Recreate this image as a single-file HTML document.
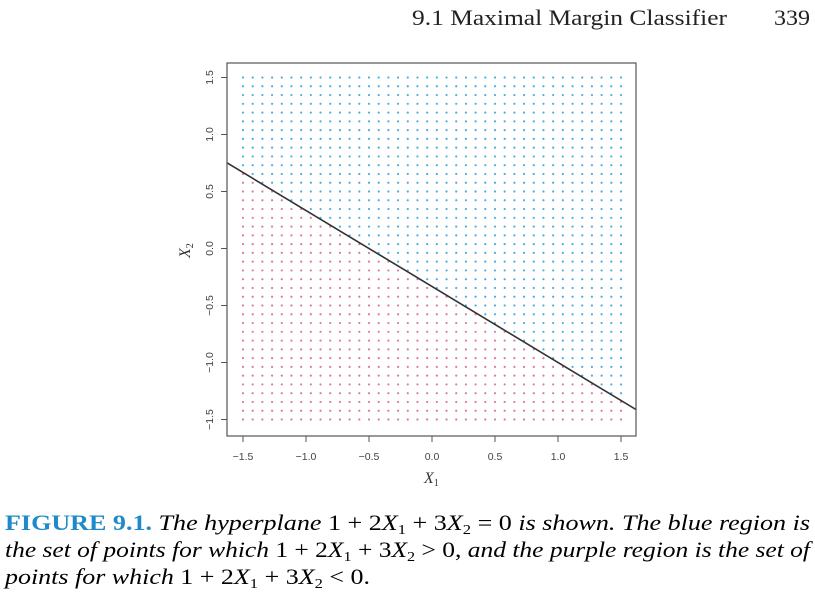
<!DOCTYPE html>
<html><head><meta charset="utf-8"><style>
html,body{margin:0;padding:0;background:#fff;}
svg{display:block;font-family:"Liberation Serif",serif;}
</style></head><body>
<svg id="chart" width="815" height="595" xmlns="http://www.w3.org/2000/svg">
<text x="412" y="25" font-size="22" fill="#222" textLength="315" lengthAdjust="spacingAndGlyphs">9.1 Maximal Margin Classifier</text>
<text x="774" y="25" font-size="22" fill="#222" textLength="36" lengthAdjust="spacingAndGlyphs">339</text>
<g id="dots"></g>
<line id="hyper" stroke="#333" stroke-width="1.6"/>
<rect x="227" y="63" width="409" height="373" fill="none" stroke="#555" stroke-width="1.2"/>
<g id="axes" font-family="Liberation Sans, sans-serif" font-size="10.5" fill="#444"></g>
<text x="424" y="483" font-size="16" font-style="italic" fill="#333">X<tspan font-size="10" dy="3" font-style="normal">1</tspan></text>
<text transform="translate(190,258) rotate(-90)" font-size="16" font-style="italic" fill="#333">X<tspan font-size="10" dy="3" font-style="normal">2</tspan></text>
<text x="5" y="530" font-size="22" textLength="805" lengthAdjust="spacingAndGlyphs"><tspan font-weight="bold" fill="#1f8ac9">FIGURE 9.1.</tspan><tspan font-style="italic"> The hyperplane </tspan><tspan>1 + 2</tspan><tspan font-style="italic">X</tspan><tspan font-size="14" dy="4">1</tspan><tspan dy="-4"> + 3</tspan><tspan font-style="italic">X</tspan><tspan font-size="14" dy="4">2</tspan><tspan dy="-4"> = 0</tspan><tspan font-style="italic"> is shown. The blue region is</tspan></text>
<text x="5" y="557" font-size="22" textLength="805" lengthAdjust="spacingAndGlyphs"><tspan font-style="italic">the set of points for which </tspan><tspan>1 + 2</tspan><tspan font-style="italic">X</tspan><tspan font-size="14" dy="4">1</tspan><tspan dy="-4"> + 3</tspan><tspan font-style="italic">X</tspan><tspan font-size="14" dy="4">2</tspan><tspan dy="-4"> &gt; 0,</tspan><tspan font-style="italic"> and the purple region is the set of</tspan></text>
<text x="5" y="584" font-size="22" textLength="365" lengthAdjust="spacingAndGlyphs"><tspan font-style="italic">points for which </tspan><tspan>1 + 2</tspan><tspan font-style="italic">X</tspan><tspan font-size="14" dy="4">1</tspan><tspan dy="-4"> + 3</tspan><tspan font-style="italic">X</tspan><tspan font-size="14" dy="4">2</tspan><tspan dy="-4"> &lt; 0.</tspan></text>
</svg>
<script>
const xTicks = [-1.5, -1.0, -0.5, 0.0, 0.5, 1.0, 1.5];
const yTicks = [-1.5, -1.0, -0.5, 0.0, 0.5, 1.0, 1.5];
const gridMin = -1.5, gridMax = 1.5, gridN = 40;
const beta0 = 1, beta1 = 2, beta2 = 3;
const xDomain = [-1.627, 1.62];
const NS = "http://www.w3.org/2000/svg";
function sx(v){ return 432 + v * 126; }
function sy(v){ return 248.5 - v * 114; }
const dots = document.getElementById('dots');
for (let i = 0; i < gridN; i++) {
  for (let j = 0; j < gridN; j++) {
    const x = gridMin + (gridMax - gridMin) * i / (gridN - 1);
    const y = gridMin + (gridMax - gridMin) * j / (gridN - 1);
    const c = document.createElementNS(NS, 'circle');
    c.setAttribute('cx', sx(x)); c.setAttribute('cy', sy(y)); c.setAttribute('r', 1.1);
    const pos = beta0 + beta1 * x + beta2 * y > 0;
    c.setAttribute('fill', pos ? '#4aaee0' : '#dc79a8');
    
    
    dots.appendChild(c);
  }
}
const ln = document.getElementById('hyper');
const f = x => -(beta0 + beta1 * x) / beta2;
ln.setAttribute('x1', sx(xDomain[0])); ln.setAttribute('y1', sy(f(xDomain[0])));
ln.setAttribute('x2', sx(xDomain[1])); ln.setAttribute('y2', sy(f(xDomain[1])));
const axes = document.getElementById('axes');
xTicks.forEach(v => {
  const l = document.createElementNS(NS, 'line');
  l.setAttribute('x1', sx(v)); l.setAttribute('x2', sx(v)); l.setAttribute('y1', 436); l.setAttribute('y2', 442);
  l.setAttribute('stroke', '#555');
  
  
  axes.appendChild(l);
  const t = document.createElementNS(NS, 'text');
  t.setAttribute('x', sx(v)); t.setAttribute('y', 460); t.setAttribute('text-anchor', 'middle');
  t.textContent = v.toFixed(1).replace('-', '\u2212');
  
  
  axes.appendChild(t);
});
yTicks.forEach(v => {
  const l = document.createElementNS(NS, 'line');
  l.setAttribute('y1', sy(v)); l.setAttribute('y2', sy(v)); l.setAttribute('x1', 221); l.setAttribute('x2', 227);
  l.setAttribute('stroke', '#555');
  
  
  axes.appendChild(l);
  const t = document.createElementNS(NS, 'text');
  t.setAttribute('transform', 'translate(213,' + sy(v) + ') rotate(-90)');
  t.setAttribute('text-anchor', 'middle');
  t.textContent = v.toFixed(1).replace('-', '\u2212');
  
  
  axes.appendChild(t);
});
</script>
</body></html>
